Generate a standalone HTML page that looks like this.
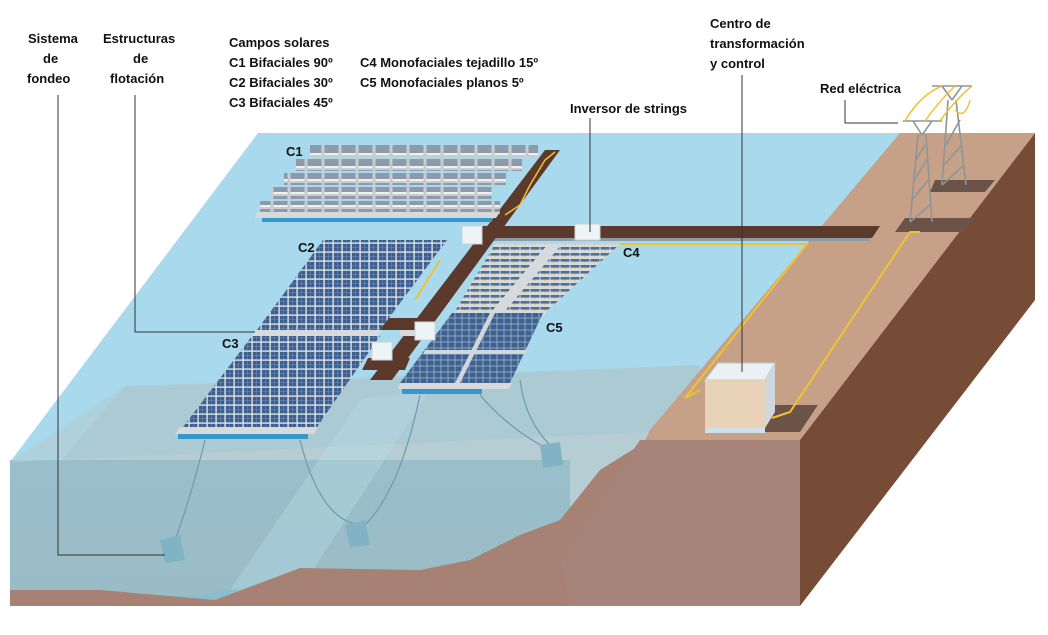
<!DOCTYPE html>
<html><head><meta charset="utf-8"><style>
html,body{margin:0;padding:0;background:#fff;}
svg{display:block;}
text{font-family:"Liberation Sans",sans-serif;font-weight:bold;font-size:13px;fill:#111;}
</style></head><body>
<svg width="1048" height="635" viewBox="0 0 1048 635" xmlns="http://www.w3.org/2000/svg">
<defs>
<pattern id="pv" width="9" height="9" patternUnits="userSpaceOnUse">
<rect width="9" height="9" fill="#dfe3e6"/><rect x="0.8" y="0.8" width="7.6" height="7.6" fill="#3d5f8f"/>
<path d="M0.8 4.5H8.4M4.5 0.8V8.4" stroke="#6f8fb8" stroke-width="0.5"/></pattern>
<pattern id="pv4" width="10" height="6" patternUnits="userSpaceOnUse">
<rect width="10" height="6" fill="#d6dadd"/><rect x="0.5" y="1" width="9" height="2.6" fill="#4d6f99"/><rect x="4" y="3.6" width="1.5" height="1" fill="#e8b93a"/></pattern>
<pattern id="pv5" width="7" height="6" patternUnits="userSpaceOnUse">
<rect width="7" height="6" fill="#9fb4cc"/><rect x="0.4" y="0.4" width="6.2" height="5.2" fill="#3e618f"/></pattern>
<pattern id="pv1" width="17" height="13" patternUnits="userSpaceOnUse">
<rect width="17" height="13" fill="#c9cdd0"/><rect x="1.5" y="1" width="14" height="9" fill="#8d9aa9"/><rect x="1.5" y="10" width="14" height="2" fill="#eef0f1"/></pattern>
<linearGradient id="front" x1="0" y1="0" x2="0" y2="1"><stop offset="0" stop-color="#8cc4d6"/><stop offset="1" stop-color="#8bbccb"/></linearGradient>
</defs>

<!-- water top surface -->
<polygon points="258,133 900,133 690,430 10,462" fill="#a8d9ec"/>
<!-- water front face -->
<rect x="10" y="460" width="560" height="146" fill="url(#front)"/>
<!-- underwater mound -->
<polygon points="125,386 300,382 700,365 690,430 560,520 520,570 300,575 200,595 10,600 10,462 60,462" fill="#9fbcc6" opacity="0.75"/>
<polygon points="125,386 700,365 690,430 10,462" fill="#b0cdd5" opacity="0.7"/>
<polygon points="360,400 430,390 300,590 230,590" fill="#b7dbe6" opacity="0.4"/>
<!-- seabed -->
<polygon points="10,590 100,590 215,600 300,568 420,570 470,560 520,535 560,520 600,470 640,445 640,606 10,606" fill="#a78274"/>
<!-- land top -->
<polygon points="900,133 1035,133 800,440 685,440 640,450 650,430" fill="#c6a187"/>
<!-- land front face -->
<polygon points="640,440 800,440 800,606 570,606 560,560 600,500" fill="#a6847a"/>
<!-- right face -->
<polygon points="1035,133 1035,300 800,606 800,440" fill="#774c37"/>

<!-- shadow pads -->
<polygon points="905,218 975,218 962,232 895,232" fill="#6b5447"/>
<polygon points="935,180 995,180 985,192 930,192" fill="#6b5447"/>
<polygon points="768,405 818,405 800,432 752,432" fill="#6b5447"/>

<!-- yellow cables on land -->
<polyline points="920,232 910,232 790,412 772,418" fill="none" stroke="#f1c230" stroke-width="2"/>
<polyline points="620,244 807,244 685,398 700,390" fill="none" stroke="#f1c230" stroke-width="2"/>

<!-- horizontal walkway -->
<polygon points="470,226 880,226 872,238 470,238" fill="#5b3a2c"/>
<rect x="470" y="238" width="400" height="3" fill="#8a9da8"/>
<!-- diagonal walkway -->
<polygon points="545,150 560,150 392,380 370,380" fill="#5b3a2c"/>
<polygon points="385,318 425,318 420,330 380,330" fill="#5b3a2c"/>
<polygon points="368,358 410,358 405,370 362,370" fill="#5b3a2c"/>

<!-- C1 rows -->
<g>
<rect x="310" y="145" width="228" height="12" fill="url(#pv1)"/>
<rect x="296" y="159" width="226" height="12" fill="url(#pv1)"/>
<rect x="284" y="173" width="222" height="12" fill="url(#pv1)"/>
<rect x="272" y="187" width="220" height="12" fill="url(#pv1)"/>
<rect x="260" y="201" width="240" height="13" fill="url(#pv1)"/>
<polygon points="258,212 500,212 496,218 254,218" fill="#d7dadc"/>
<rect x="262" y="218" width="230" height="4" fill="#3498cd"/>
</g>
<polyline points="505,215 520,205 530,185 545,160 555,152" fill="none" stroke="#f1c230" stroke-width="1.5"/>

<!-- C2 -->
<polygon points="323,240 447,240 380,330 257,330" fill="url(#pv)"/>
<polygon points="255,330 382,330 378,336 252,336" fill="#d7dadc"/>
<rect x="400" y="330" width="15" height="6" fill="#d7dadc"/>
<line x1="415" y1="300" x2="440" y2="260" stroke="#f1c230" stroke-width="2"/>
<!-- C3 -->
<polygon points="252,336 380,336 317,427 183,427" fill="url(#pv)"/>
<polygon points="180,427 318,427 314,434 175,434" fill="#d7dadc"/>
<rect x="178" y="434" width="130" height="5" fill="#3498cd"/>
<!-- C4 -->
<polygon points="495,244 620,244 547,311 455,311" fill="url(#pv4)"/>
<polygon points="548,244 562,244 505,311 492,311" fill="#d6dadd"/>
<polygon points="455,311 547,311 544,315 452,315" fill="#d7dadc"/>
<!-- C5 -->
<polygon points="452,313 543,313 510,383 400,383" fill="url(#pv5)"/>
<polygon points="425,350 527,350 525,354 423,354" fill="#cfd6dc"/>
<polygon points="490,313 495,313 460,383 455,383" fill="#cfd6dc"/>
<polygon points="400,383 512,383 509,389 398,389" fill="#d7dadc"/>
<rect x="402" y="389" width="80" height="5" fill="#3498cd"/>

<!-- inverter boxes -->
<rect x="575" y="224" width="25" height="16" fill="#eef3f5" stroke="#c9d4d9"/>
<rect x="462" y="226" width="20" height="18" fill="#eef3f5" stroke="#c9d4d9"/>
<rect x="415" y="322" width="20" height="18" fill="#eef3f5" stroke="#c9d4d9"/>
<rect x="372" y="342" width="20" height="18" fill="#eef3f5" stroke="#c9d4d9"/>

<!-- transformation centre -->
<polygon points="718,363 775,363 765,380 705,380" fill="#e9f1f4" stroke="#b7cad2"/>
<rect x="705" y="380" width="60" height="48" fill="#e9d3b8"/>
<polygon points="765,380 775,363 775,412 765,428" fill="#cfd8dc"/>
<rect x="705" y="428" width="60" height="5" fill="#cfe0e8"/>

<!-- anchors & chains -->
<g fill="none" stroke="#6f9aa9" stroke-width="1.2">
<path d="M205 440 Q190 500 175 540"/>
<path d="M300 440 Q320 520 360 525"/>
<path d="M420 395 Q400 490 365 525"/>
<path d="M480 395 Q510 430 550 450"/>
<path d="M520 380 Q525 420 550 445"/>
</g>
<g fill="#80b4c4">
<polygon points="160,540 180,535 185,560 165,563"/>
<polygon points="345,525 365,520 370,545 350,548"/>
<polygon points="540,445 560,442 563,465 543,468"/>
</g>

<!-- towers -->
<g stroke="#8f9498" stroke-width="1.6" fill="none">
<path d="M903 121H942M913 121L922 135M932 121L922 135M918 135L910 222M926 135L932 222M910 222L930 205M912 200L928 180M914 180L927 160M916 160L925 145"/>
<path d="M932 86H972M942 86L952 100M962 86L952 100M948 100L942 185M956 100L966 185M942 185L964 165M944 165L962 145M946 145L960 120"/>
</g>
<g stroke="#f1c230" stroke-width="1.5" fill="none">
<path d="M905 121 Q920 95 942 86M925 121 Q940 100 955 86M940 121 Q955 100 972 86M955 110 Q965 120 970 100"/>
</g>

<!-- labels -->
<text x="28" y="43">Sistema</text>
<text x="43" y="63">de</text>
<text x="27" y="83">fondeo</text>
<text x="103" y="43">Estructuras</text>
<text x="133" y="63">de</text>
<text x="110" y="83">flotación</text>
<text x="229" y="47">Campos solares</text>
<text x="229" y="67">C1 Bifaciales 90º</text>
<text x="229" y="87">C2 Bifaciales 30º</text>
<text x="229" y="107">C3 Bifaciales 45º</text>
<text x="360" y="67">C4 Monofaciales tejadillo 15º</text>
<text x="360" y="87">C5 Monofaciales planos 5º</text>
<text x="570" y="113">Inversor de strings</text>
<text x="710" y="28">Centro de</text>
<text x="710" y="48">transformación</text>
<text x="710" y="68">y control</text>
<text x="820" y="93">Red eléctrica</text>
<text x="286" y="156">C1</text>
<text x="298" y="252">C2</text>
<text x="222" y="348">C3</text>
<text x="623" y="257">C4</text>
<text x="546" y="332">C5</text>

<!-- leader lines -->
<g stroke="#333" stroke-width="1" fill="none">
<polyline points="58,95 58,555 165,555"/>
<polyline points="135,95 135,332 255,332"/>
<line x1="590" y1="118" x2="590" y2="232"/>
<line x1="742" y1="75" x2="742" y2="372"/>
<polyline points="845,100 845,123 898,123"/>
</g>
</svg>
</body></html>
